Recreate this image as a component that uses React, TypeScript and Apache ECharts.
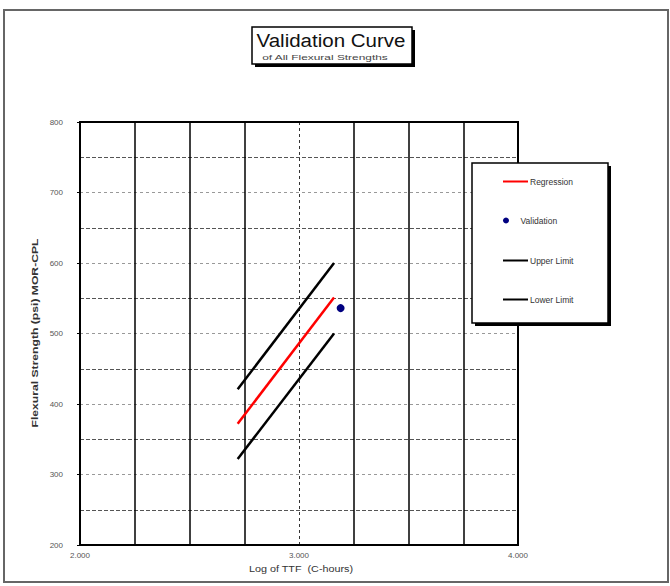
import React, { useEffect, useRef } from "react";
import * as echarts from "echarts";

const seriesNames = ["Regression", "Validation", "Upper Limit", "Lower Limit"];
const regression: [number, number][] = [[2.72, 372], [3.16, 551]];
const upperLimit: [number, number][] = [[2.72, 421], [3.16, 600]];
const lowerLimit: [number, number][] = [[2.72, 322], [3.16, 500]];
const validation: [number, number][] = [[3.19, 536]];
const xRange = [2, 4];
const yRange = [200, 800];

const FONT = "'Liberation Sans', Arial, sans-serif";
const LINE_ICON = "path://M0,0L50,0L50,4L0,4Z";

export default function App() {
  const ref = useRef<HTMLDivElement>(null);
  useEffect(() => {
    if (!ref.current) return;
    const chart = echarts.init(ref.current, null, { renderer: "svg" });
    const legendTops = [183, 222, 262, 301];
    chart.setOption({
      animation: false,
      backgroundColor: "#fff",
      grid: {
        left: 80,
        right: 152,
        top: 122,
        bottom: 41,
        show: true,
        borderColor: "#000",
        borderWidth: 2,
        backgroundColor: "transparent",
        z: 3,
      },
      xAxis: {
        type: "value",
        min: xRange[0],
        max: xRange[1],
        interval: 1,
        axisLine: { show: false },
        axisTick: { show: false },
        axisLabel: {
          formatter: (v: number) => v.toFixed(3),
          fontSize: 8,
          color: "#555",
          fontFamily: FONT,
          margin: 6,
        },
        splitLine: { show: true, lineStyle: { color: "#333", type: [3, 3], width: 1 } },
        minorTick: { show: false, splitNumber: 4 },
        minorSplitLine: { show: true, lineStyle: { color: "#000", width: 1.5 } },
      },
      yAxis: {
        type: "value",
        min: yRange[0],
        max: yRange[1],
        interval: 100,
        axisLine: { show: false },
        axisTick: { show: true, length: 3, lineStyle: { color: "#000" } },
        axisLabel: {
          fontSize: 8,
          color: "#555",
          fontFamily: FONT,
          margin: 17,
        },
        splitLine: { show: true, lineStyle: { color: "#999", type: [3, 3], width: 1 } },
        minorTick: { show: false, splitNumber: 2 },
        minorSplitLine: { show: true, lineStyle: { color: "#555", type: [4, 2], width: 1.2 } },
      },
      legend: seriesNames.map((n, i) => ({
        data: [
          n === "Validation"
            ? { name: n, icon: "circle" }
            : { name: n, icon: LINE_ICON },
        ],
        left: 503,
        top: legendTops[i] - 6,
        padding: 0,
        itemWidth: 25,
        itemHeight: 6,
        itemGap: 0,
        textStyle: { fontSize: 8.5, color: "#333", fontFamily: FONT, padding: [0, 0, 0, -3] },
        z: 20,
      })),
      graphic: [
        {
          type: "rect",
          shape: { x: 4, y: 10, width: 664, height: 572 },
          style: { fill: "none", stroke: "#666", lineWidth: 2 },
          z: 100,
        },
        {
          type: "rect",
          shape: { x: 255, y: 30, width: 160, height: 37 },
          style: { fill: "#000" },
          z: 10,
        },
        {
          type: "rect",
          shape: { x: 252, y: 27, width: 160, height: 37 },
          style: { fill: "#fff", stroke: "#000", lineWidth: 1.5 },
          z: 11,
        },
        {
          type: "text",
          x: 331,
          y: 40,
          scaleX: 1.08,
          style: {
            text: "Validation Curve",
            fontSize: 19,
            fontFamily: FONT,
            fill: "#111",
            align: "center",
            verticalAlign: "middle",
          },
          z: 12,
        },
        {
          type: "text",
          x: 325,
          y: 57,
          scaleX: 1.7,
          style: {
            text: "of All Flexural Strengths",
            fontSize: 7,
            fontFamily: FONT,
            fill: "#444",
            align: "center",
            verticalAlign: "middle",
          },
          z: 12,
        },
        {
          type: "rect",
          shape: { x: 475, y: 166, width: 136, height: 160 },
          style: { fill: "#000" },
          z: 10,
        },
        {
          type: "rect",
          shape: { x: 472, y: 163, width: 136, height: 160 },
          style: { fill: "#fff", stroke: "#000", lineWidth: 1.5 },
          z: 11,
        },
        {
          type: "text",
          x: 301,
          y: 569,
          scaleX: 1.2,
          style: {
            text: "Log of TTF  (C-hours)",
            fontSize: 9,
            fontFamily: FONT,
            fill: "#333",
            align: "center",
            verticalAlign: "middle",
          },
          z: 12,
        },
        {
          type: "text",
          x: 35,
          y: 333,
          rotation: Math.PI / 2,
          scaleX: 1.35,
          style: {
            text: "Flexural Strength (psi) MOR-CPL",
            fontSize: 9,
            fontWeight: "bold",
            fontFamily: FONT,
            fill: "#333",
            align: "center",
            verticalAlign: "middle",
          },
          z: 12,
        },
      ],
      series: [
        {
          name: "Regression",
          type: "line",
          data: regression,
          symbol: "none",
          lineStyle: { color: "#ff0000", width: 2.5 },
          itemStyle: { color: "#ff0000" },
          z: 5,
        },
        {
          name: "Validation",
          type: "scatter",
          data: validation,
          symbol: "circle",
          symbolSize: 8,
          itemStyle: { color: "#000080", opacity: 1 },
          z: 6,
        },
        {
          name: "Upper Limit",
          type: "line",
          data: upperLimit,
          symbol: "none",
          lineStyle: { color: "#000", width: 2.5 },
          itemStyle: { color: "#000" },
          z: 5,
        },
        {
          name: "Lower Limit",
          type: "line",
          data: lowerLimit,
          symbol: "none",
          lineStyle: { color: "#000", width: 2.5 },
          itemStyle: { color: "#000" },
          z: 5,
        },
      ],
    });
    return () => chart.dispose();
  }, []);
  return (
    <div
      ref={ref}
      style={{ position: "absolute", left: 0, top: 0, width: 670, height: 586 }}
    />
  );
}
